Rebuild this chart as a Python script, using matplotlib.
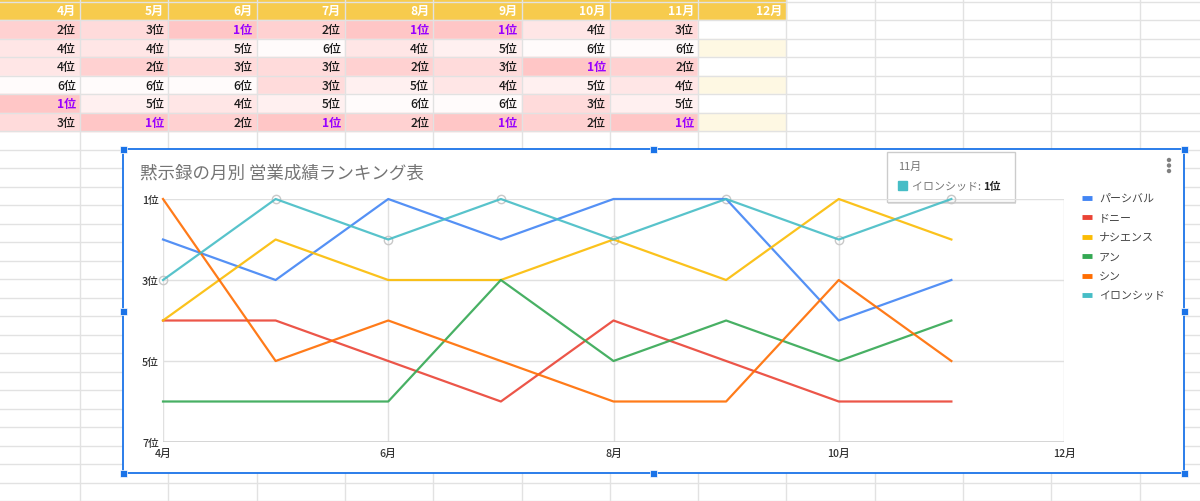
import matplotlib
matplotlib.use("Agg")
import matplotlib.pyplot as plt
from matplotlib.patches import Rectangle, Circle
from matplotlib.colors import LinearSegmentedColormap, Normalize

plt.rcParams["font.family"] = ["Noto Sans CJK JP", "DejaVu Sans"]

# data
header_months = ["4月", "5月", "6月", "7月", "8月", "9月", "10月", "11月", "12月"]
months = [4, 5, 6, 7, 8, 9, 10, 11]
names = ["パーシバル", "ドニー", "ナシエンス", "アン", "シン", "イロンシッド"]
percival = [2, 3, 1, 2, 1, 1, 4, 3]
donny = [4, 4, 5, 6, 4, 5, 6, 6]
nacien = [4, 2, 3, 3, 2, 3, 1, 2]
anne = [6, 6, 6, 3, 5, 4, 5, 4]
shin = [1, 5, 4, 5, 6, 6, 3, 5]
ironside = [3, 1, 2, 1, 2, 1, 2, 1]
ranks = [percival, donny, nacien, anne, shin, ironside]
colors = ["#4285f4", "#ea4335", "#fbbc04", "#34a853", "#ff6d01", "#46bdc6"]
title = "黙示録の月別 営業成績ランキング表"
tooltip_series = 5
tooltip_month = 11

W, H = 1200, 502
fig = plt.figure(figsize=(W / 100, H / 100), dpi=100)
bg = fig.add_axes([0, 0, 1, 1])
bg.set_xlim(0, W)
bg.set_ylim(H, 0)
bg.axis("off")

# spreadsheet grid
col_w = 88.3
col_edges = [80 + col_w * k for k in range(-1, 14)]
row_h = 18.5
row_edges = [21 + row_h * k for k in range(-1, 27)]
grid_c = "#e2e2e2"

# header row
n_cols = len(header_months)
bg.add_patch(Rectangle((col_edges[0], 0), col_edges[n_cols] - col_edges[0], 21,
                       color="#f7cb4d", zorder=1))
for c, lab in enumerate(header_months):
    bg.text(col_edges[c + 1] - 4, 11, lab, ha="right", va="center", color="white",
            fontsize=8.7, fontweight="bold", zorder=3)

cmap = LinearSegmentedColormap.from_list("rk", ["#ffc6c6", "#fffbfb"])
norm = Normalize(1, 6)
for r, series in enumerate(ranks):
    y0 = row_edges[r + 1]
    for c in range(n_cols):
        if c < len(series):
            v = series[c]
            fc = cmap(norm(v))
        else:
            v = None
            fc = "#fef8e3" if r % 2 == 1 else "white"
        bg.add_patch(Rectangle((col_edges[c], y0), col_w, row_h, color=fc, zorder=1))
        if v is not None:
            bg.text(col_edges[c + 1] - 4, y0 + row_h / 2 + 0.5, f"{v}位", ha="right",
                    va="center", fontsize=8.7,
                    color="#9900ff" if v == 1 else "#1a1a1a",
                    fontweight="bold" if v == 1 else "medium", zorder=3)

for x in col_edges:
    bg.plot([x, x], [0, H], color=grid_c, lw=1, zorder=2)
for y in row_edges:
    bg.plot([0, W], [y, y], color=grid_c, lw=1, zorder=2)

# chart box
cx0, cy0, cx1, cy1 = 123, 150, 1184, 474
bg.add_patch(Rectangle((cx0, cy0), cx1 - cx0, cy1 - cy0, facecolor="white",
                       edgecolor="#1a73e8", lw=1.3, zorder=5))
for hx in (cx0, (cx0 + cx1) / 2, cx1):
    for hy in (cy0, (cy0 + cy1) / 2, cy1):
        if hx == (cx0 + cx1) / 2 and hy == (cy0 + cy1) / 2:
            continue
        bg.add_patch(Rectangle((hx - 3.5, hy - 3.5), 7, 7, facecolor="#1a73e8",
                               edgecolor="white", lw=0.5, zorder=6))
bg.text(140, 174, title, ha="left", va="center", fontsize=12.6, color="#757575", zorder=6)
for dy in (161, 166.5, 172):
    bg.add_patch(Circle((1169, dy), 1.5, color="#808080", zorder=6))

# plot area
px0, px1, py_top, py_bot = 163, 1064, 200, 443
ax = fig.add_axes([px0 / W, (H - py_bot) / H, (px1 - px0) / W, (py_bot - py_top) / H])
ax.set_zorder(7)
ax.patch.set_alpha(0)
ax.set_xlim(4, 12)
ax.set_ylim(7, 1)
ax.set_xticks([4, 6, 8, 10, 12])
ax.set_xticklabels(["4月", "6月", "8月", "10月", "12月"])
ax.set_yticks([1, 3, 5, 7])
ax.set_yticklabels(["1位", "3位", "5位", "7位"])
ax.tick_params(length=0, labelsize=7.7, labelcolor="#333333", pad=4)
ax.tick_params(axis="y", pad=3)
for lab in ax.get_xticklabels() + ax.get_yticklabels():
    lab.set_fontweight("medium")
ax.grid(True, color="#e0e0e0", lw=1)
ax.set_axisbelow(True)
for s in ax.spines.values():
    s.set_visible(False)
ax.axhline(7, color="#d0d0d0", lw=1.2, zorder=1)

for series, col in zip(ranks, colors):
    ax.plot(months, series, color=col, lw=1.6, alpha=0.9, zorder=3, clip_on=False)
ax.plot(months, ranks[tooltip_series], linestyle="none", marker="o", ms=6,
        mfc="none", mec="#c8c8c8", mew=1, zorder=2, clip_on=False)

# legend
for i, (nm, col) in enumerate(zip(names, colors)):
    ly = 199 + 19.4 * i
    bg.plot([1082, 1092], [ly, ly], color=col, lw=3.5, solid_capstyle="butt", zorder=6)
    bg.text(1099, ly, nm, ha="left", va="center", fontsize=7.9, color="#444444", zorder=6)

# tooltip
tx0, ty0, tw, th = 887, 153, 128, 50
bg.add_patch(Rectangle((tx0 + 1, ty0 + 2), tw, th, facecolor="#000000", alpha=0.12,
                       lw=0, zorder=8))
bg.add_patch(Rectangle((tx0, ty0), tw, th, facecolor="white", edgecolor="#cccccc",
                       lw=1, zorder=9))
bg.text(tx0 + 11, 167, f"{tooltip_month}月", ha="left", va="center", fontsize=7.9,
        color="#757575", zorder=10)
bg.add_patch(Rectangle((tx0 + 11, 182), 9, 9, color=colors[tooltip_series], zorder=10))
t = bg.text(tx0 + 25, 187, f"{names[tooltip_series]}: ", ha="left", va="center",
            fontsize=7.9, color="#757575", zorder=10)
tip_rank = ranks[tooltip_series][months.index(tooltip_month)]
bg.annotate(f"{tip_rank}位", xycoords=t, xy=(1, 0.5), va="center", ha="left",
            fontsize=7.9, fontweight="bold", color="#222222", zorder=10)

fig.savefig("out.png", dpi=100)
